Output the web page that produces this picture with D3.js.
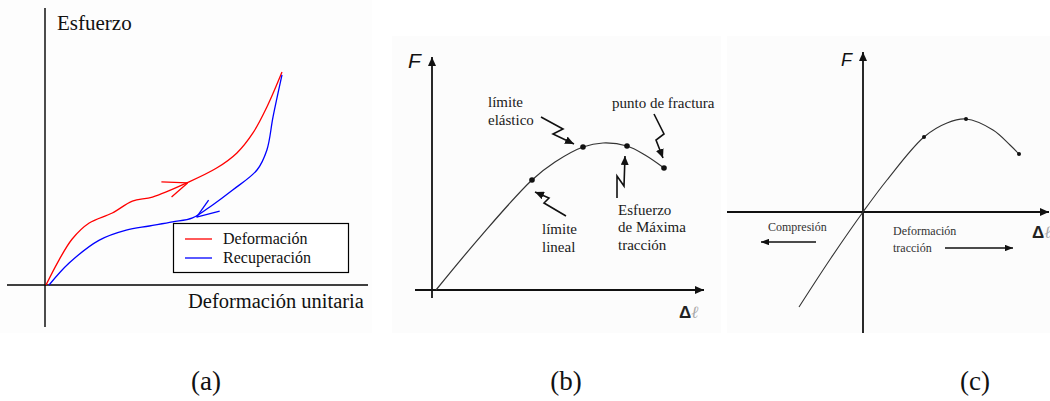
<!DOCTYPE html>
<html>
<head>
<meta charset="utf-8">
<script src="https://cdn.jsdelivr.net/npm/d3@7"></script>
<style>
  html, body { margin: 0; padding: 0; background: #fff; }
  svg { display: block; }
  .serif { font-family: "Liberation Serif", "Times New Roman", serif; }
  .sans { font-family: "Liberation Sans", Arial, sans-serif; }
</style>
</head>
<body>
<svg id="chart" width="1050" height="401"></svg>
<script>
// ---- (a) stress–strain loop: loading and unloading (hysteresis) ----
const loadingCurve = [
  [0, 0], [5.5, 11.7], [11.1, 21.6], [18.3, 29.1], [28.1, 33.8], [36.6, 39.4],
  [45.1, 41.3], [59.6, 47.9], [72.3, 54.9], [80.9, 62.0], [87.7, 71.4],
  [93.6, 83.6], [100, 100]
];
const unloadingCurve = [
  [1.3, 0], [9.8, 10.3], [22.6, 21.1], [34.0, 25.8], [43.8, 27.7], [53.6, 29.6],
  [62.1, 31.5], [70.6, 37.6], [79.1, 44.6], [89.4, 54.0], [93.6, 63.4],
  [96.2, 78.9], [100, 98.6]
];
// direction arrows drawn on each curve: tip and two barb ends
const loadingArrow = { tip: [60, 47.9], barbs: [[48.9, 48.4], [53.2, 41.3]] };
const unloadingArrow = { tip: [63.8, 31.9], barbs: [[68.9, 39.9], [73.6, 34.7]] };
const legendLabels = ["Deformación", "Recuperación"];
const legendColors = ["#ff0000", "#0000ff"];

// ---- (b) force–elongation curve in tension ----
const tensionCurve = [
  [1.6, 0], [20, 27.6], [40, 55], [49.2, 64], [60.4, 71.5], [68.4, 73.5],
  [78, 72], [85.2, 67.5], [92.8, 61]
];
const tensionPoints = [
  { name: "lineal", p: [40, 55] },
  { name: "elastico", p: [60.4, 71.5] },
  { name: "maxima", p: [78, 72] },
  { name: "fractura", p: [92.8, 61] }
];

// ---- (c) same curve extended into compression ----
const fullCurve = [
  [-25.6, -47.5], [-12.8, -23], [0, 0], [9.6, 16], [24.4, 37.5], [33.6, 44.5],
  [41.2, 46.5], [52, 41], [58.8, 33.5], [62.4, 29]
];
const fullPoints = [[24.4, 37.5], [41.2, 46.5], [62.4, 29]];

const captions = ["(a)", "(b)", "(c)"];

const svg = d3.select("#chart");
const defs = svg.append("defs");

function addMarker(id, color, len, half) {
  defs.append("marker")
    .attr("id", id)
    .attr("markerUnits", "userSpaceOnUse")
    .attr("viewBox", `0 ${-half} ${len} ${half * 2}`)
    .attr("refX", len).attr("refY", 0)
    .attr("markerWidth", len).attr("markerHeight", half * 2)
    .attr("orient", "auto")
    .append("path")
    .attr("d", `M0,${-half}L${len},0L0,${half}Z`)
    .attr("fill", color);
}
addMarker("axisHead", "#111", 9, 4);
addMarker("noteHead", "#111", 9, 4);
addMarker("dirHead", "#111", 8, 3.2);

defs.append("clipPath").attr("id", "clipB")
  .append("rect").attr("x", 385).attr("y", 30).attr("width", 336).attr("height", 310);
defs.append("clipPath").attr("id", "clipC")
  .append("rect").attr("x", 726).attr("y", 30).attr("width", 324).attr("height", 310);

// faint panel backgrounds
svg.append("rect").attr("x", 0).attr("y", 0).attr("width", 372).attr("height", 333).attr("fill", "#fdfdfd");
svg.append("rect").attr("x", 392).attr("y", 36).attr("width", 329).attr("height", 297).attr("fill", "#fcfcfc");
svg.append("rect").attr("x", 727).attr("y", 36).attr("width", 323).attr("height", 297).attr("fill", "#fcfcfc");

/* ================= panel (a) ================= */
const xa = d3.scaleLinear().domain([0, 100]).range([46, 282]);
const ya = d3.scaleLinear().domain([0, 100]).range([285, 72]);
const ga = svg.append("g");

ga.append("line").attr("x1", xa(0) - 1).attr("x2", xa(0) - 1).attr("y1", 8).attr("y2", 327)
  .attr("stroke", "#000").attr("stroke-width", 1.4);
ga.append("line").attr("x1", 7).attr("x2", 368).attr("y1", ya(0)).attr("y2", ya(0))
  .attr("stroke", "#000").attr("stroke-width", 1.4);

ga.append("text").attr("class", "serif").attr("x", 57).attr("y", 30)
  .attr("font-size", 21).attr("fill", "#111").text("Esfuerzo");
ga.append("text").attr("class", "serif").attr("x", 188).attr("y", 308)
  .attr("font-size", 20.5).attr("fill", "#111").text("Deformación unitaria");

const lineA = d3.line().x(d => xa(d[0])).y(d => ya(d[1])).curve(d3.curveCatmullRom.alpha(0.5));
ga.append("path").datum(loadingCurve).attr("d", lineA)
  .attr("fill", "none").attr("stroke", legendColors[0]).attr("stroke-width", 1.3);
ga.append("path").datum(unloadingCurve).attr("d", lineA)
  .attr("fill", "none").attr("stroke", legendColors[1]).attr("stroke-width", 1.3);

[[loadingArrow, legendColors[0]], [unloadingArrow, legendColors[1]]].forEach(([a, c]) => {
  a.barbs.forEach(b => {
    ga.append("line")
      .attr("x1", xa(b[0])).attr("y1", ya(b[1]))
      .attr("x2", xa(a.tip[0])).attr("y2", ya(a.tip[1]))
      .attr("stroke", c).attr("stroke-width", 1.3);
  });
});

// legend
const lg = ga.append("g");
lg.append("rect").attr("x", 173.5).attr("y", 223.5).attr("width", 175).attr("height", 49)
  .attr("fill", "#fff").attr("stroke", "#000").attr("stroke-width", 1.2);
legendLabels.forEach((t, i) => {
  const y = 239 + i * 19;
  lg.append("line").attr("x1", 185).attr("x2", 212).attr("y1", y).attr("y2", y)
    .attr("stroke", legendColors[i]).attr("stroke-width", 1.3);
  lg.append("text").attr("class", "serif").attr("x", 223).attr("y", y + 5)
    .attr("font-size", 16).attr("fill", "#111").text(t);
});

/* ================= panel (b) ================= */
const xb = d3.scaleLinear().domain([0, 100]).range([432, 682]);
const yb = d3.scaleLinear().domain([0, 100]).range([290, 90]);
const gb = svg.append("g").attr("clip-path", "url(#clipB)");

gb.append("line").attr("x1", xb(0)).attr("x2", xb(0)).attr("y1", 298).attr("y2", 57)
  .attr("stroke", "#111").attr("stroke-width", 1.8).attr("marker-end", "url(#axisHead)");
gb.append("line").attr("x1", 415).attr("x2", 704).attr("y1", yb(0)).attr("y2", yb(0))
  .attr("stroke", "#111").attr("stroke-width", 1.8).attr("marker-end", "url(#axisHead)");

gb.append("text").attr("class", "sans").attr("x", 408).attr("y", 68)
  .attr("font-size", 21).attr("font-style", "italic").attr("fill", "#111").text("F");
const dlB = gb.append("text").attr("class", "sans").attr("x", 679).attr("y", 318).attr("font-size", 17);
dlB.append("tspan").attr("fill", "#222").attr("font-weight", "bold").text("Δ");
dlB.append("tspan").attr("fill", "#aaa").attr("font-style", "italic").attr("font-family", "DejaVu Serif").text("ℓ");

const lineB = d3.line().x(d => xb(d[0])).y(d => yb(d[1])).curve(d3.curveCatmullRom.alpha(0.5));
gb.append("path").datum(tensionCurve).attr("d", lineB)
  .attr("fill", "none").attr("stroke", "#333").attr("stroke-width", 1.2);
gb.selectAll("circle.pt").data(tensionPoints).join("circle")
  .attr("class", "pt").attr("cx", d => xb(d.p[0])).attr("cy", d => yb(d.p[1]))
  .attr("r", 2.8).attr("fill", "#111");

// zig-zag pointers, as offsets from the point each one marks
const pointerOffsets = {
  elastico: [[-42, -30], [-20, -18], [-30, -13], [-9, -3]],
  lineal: [[34, 36], [12, 23], [17, 18], [3, 12]],
  maxima: [[-10, 52], [-10, 30], [-3, 40], [-2, 10]],
  fractura: [[-10, -54], [0, -34], [-8, -28], [-1, -10]]
};
tensionPoints.forEach(d => {
  const cx = xb(d.p[0]), cy = yb(d.p[1]);
  const pts = pointerOffsets[d.name].map(o => [cx + o[0], cy + o[1]]);
  gb.append("path").attr("d", d3.line()(pts))
    .attr("fill", "none").attr("stroke", "#111").attr("stroke-width", 1.6)
    .attr("stroke-linejoin", "miter").attr("marker-end", "url(#noteHead)");
});

const noteStyle = sel => sel.attr("class", "serif").attr("font-size", 15).attr("fill", "#1a1a1a");
[["límite", 488, 107], ["elástico", 488, 125],
 ["punto de fractura", 612, 108],
 ["límite", 542, 234], ["lineal", 542, 252],
 ["Esfuerzo", 618, 215], ["de Máxima", 618, 232], ["tracción", 618, 250]
].forEach(([t, x, y]) => gb.append("text").call(noteStyle).attr("x", x).attr("y", y).text(t));

/* ================= panel (c) ================= */
const xc = d3.scaleLinear().domain([0, 100]).range([863, 1113]);
const yc = d3.scaleLinear().domain([0, 100]).range([212, 12]);
const gc = svg.append("g").attr("clip-path", "url(#clipC)");

gc.append("line").attr("x1", xc(0)).attr("x2", xc(0)).attr("y1", 333).attr("y2", 52)
  .attr("stroke", "#111").attr("stroke-width", 1.8).attr("marker-end", "url(#axisHead)");
gc.append("line").attr("x1", 727).attr("x2", 1049).attr("y1", yc(0)).attr("y2", yc(0))
  .attr("stroke", "#111").attr("stroke-width", 1.8).attr("marker-end", "url(#axisHead)");

gc.append("text").attr("class", "sans").attr("x", 841).attr("y", 66)
  .attr("font-size", 18).attr("font-style", "italic").attr("fill", "#111").text("F");
const dlC = gc.append("text").attr("class", "sans").attr("x", 1032).attr("y", 238).attr("font-size", 17);
dlC.append("tspan").attr("fill", "#222").attr("font-weight", "bold").text("Δ");
dlC.append("tspan").attr("fill", "#aaa").attr("font-style", "italic").attr("font-family", "DejaVu Serif").text("ℓ");

const lineC = d3.line().x(d => xc(d[0])).y(d => yc(d[1])).curve(d3.curveCatmullRom.alpha(0.5));
gc.append("path").datum(fullCurve).attr("d", lineC)
  .attr("fill", "none").attr("stroke", "#333").attr("stroke-width", 1.1);
gc.selectAll("circle.pt").data(fullPoints).join("circle")
  .attr("class", "pt").attr("cx", d => xc(d[0])).attr("cy", d => yc(d[1]))
  .attr("r", 2).attr("fill", "#111");

const smallStyle = sel => sel.attr("class", "serif").attr("font-size", 12).attr("fill", "#333");
gc.append("text").call(smallStyle).attr("x", 768).attr("y", 231).text("Compresión");
gc.append("text").call(smallStyle).attr("x", 893).attr("y", 235).text("Deformación");
gc.append("text").call(smallStyle).attr("x", 893).attr("y", 252).text("tracción");
gc.append("line").attr("x1", 816).attr("x2", 761).attr("y1", 242).attr("y2", 242)
  .attr("stroke", "#111").attr("stroke-width", 1.5).attr("marker-end", "url(#dirHead)");
gc.append("line").attr("x1", 945).attr("x2", 1013).attr("y1", 248).attr("y2", 248)
  .attr("stroke", "#111").attr("stroke-width", 1.5).attr("marker-end", "url(#dirHead)");

/* ================= captions ================= */
const capX = [206, 566, 975];
captions.forEach((t, i) => {
  svg.append("text").attr("class", "serif").attr("x", capX[i]).attr("y", 390)
    .attr("text-anchor", "middle").attr("font-size", 27).attr("fill", "#111").text(t);
});
</script>
</body>
</html>
